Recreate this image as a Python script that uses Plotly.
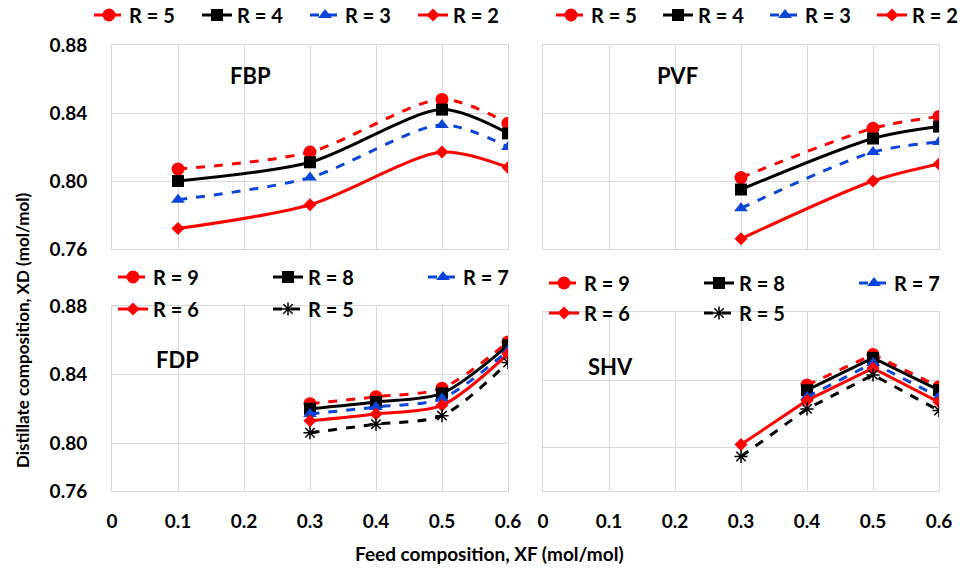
import plotly.graph_objects as go

# ---------------- data ----------------
xF_FBP = [0.1, 0.3, 0.5, 0.6]
FBP_R5 = [0.807, 0.817, 0.848, 0.834]
FBP_R4 = [0.800, 0.811, 0.842, 0.828]
FBP_R3 = [0.789, 0.802, 0.833, 0.820]
FBP_R2 = [0.772, 0.786, 0.817, 0.808]

xF_PVF = [0.3, 0.5, 0.6]
PVF_R5 = [0.802, 0.831, 0.838]
PVF_R4 = [0.795, 0.825, 0.832]
PVF_R3 = [0.784, 0.817, 0.823]
PVF_R2 = [0.766, 0.800, 0.810]

xF_FDP = [0.3, 0.4, 0.5, 0.6]
FDP_R9 = [0.823, 0.827, 0.832, 0.859]
FDP_R8 = [0.820, 0.824, 0.829, 0.857]
FDP_R7 = [0.817, 0.821, 0.826, 0.854]
FDP_R6 = [0.813, 0.817, 0.822, 0.852]
FDP_R5 = [0.806, 0.811, 0.816, 0.847]

xF_SHV = [0.3, 0.4, 0.5, 0.6]
SHV_R9 = [None, 0.837, 0.855, 0.836]
SHV_R8 = [None, 0.834, 0.853, 0.834]
SHV_R7 = [None, 0.830, 0.850, 0.830]
SHV_R6 = [0.802, 0.828, 0.847, 0.827]
SHV_R5 = [0.795, 0.823, 0.843, 0.822]

x_ticks = [0, 0.1, 0.2, 0.3, 0.4, 0.5, 0.6]
x_ticktext = ["0", "0.1", "0.2", "0.3", "0.4", "0.5", "0.6"]
y_ticks_top = [0.76, 0.80, 0.84, 0.88]
y_ticktext_top = ["0.76", "0.80", "0.84", "0.88"]
y_ticks_bot = [0.772, 0.80, 0.84, 0.88]
y_ticktext_bot = ["0.76", "0.80", "0.84", "0.88"]

RED = "#ff0000"
BLACK = "#000000"
BLUE = "#0b45d9"
GRID = "#d9d9d9"
FONT = "Lato, Open Sans, sans-serif"

fig = go.Figure()

styles = {
    "circle": dict(color=RED, dash="dash", symbol="circle", size=13),
    "square": dict(color=BLACK, dash="solid", symbol="square", size=12),
    "triangle": dict(color=BLUE, dash="dash", symbol="triangle-up", size=12),
    "diamond": dict(color=RED, dash="solid", symbol="diamond", size=10),
    "asterisk": dict(color=BLACK, dash="dash", symbol="asterisk-open", size=11),
}


def add(x, y, name, style, ax, legend, shape="spline"):
    s = styles[style]
    marker = dict(symbol=s["symbol"], size=s["size"], color=s["color"])
    if style == "asterisk":
        marker["line"] = dict(color=BLACK, width=1.5)
    fig.add_trace(go.Scatter(
        x=x, y=y, name=name, mode="lines+markers",
        line=dict(color=s["color"], width=3, dash=s["dash"], shape=shape,
                  smoothing=0.8),
        marker=marker, connectgaps=False,
        xaxis="x" + ax, yaxis="y" + ax, legend=legend,
    ))


add(xF_FBP, FBP_R5, "R = 5", "circle", "", "legend")
add(xF_FBP, FBP_R4, "R = 4", "square", "", "legend")
add(xF_FBP, FBP_R3, "R = 3", "triangle", "", "legend")
add(xF_FBP, FBP_R2, "R = 2", "diamond", "", "legend")

add(xF_PVF, PVF_R5, "R = 5", "circle", "2", "legend2")
add(xF_PVF, PVF_R4, "R = 4", "square", "2", "legend2")
add(xF_PVF, PVF_R3, "R = 3", "triangle", "2", "legend2")
add(xF_PVF, PVF_R2, "R = 2", "diamond", "2", "legend2")

add(xF_FDP, FDP_R9, "R = 9", "circle", "3", "legend3")
add(xF_FDP, FDP_R8, "R = 8", "square", "3", "legend3")
add(xF_FDP, FDP_R7, "R = 7", "triangle", "3", "legend3")
add(xF_FDP, FDP_R6, "R = 6", "diamond", "3", "legend4")
add(xF_FDP, FDP_R5, "R = 5", "asterisk", "3", "legend4")

add(xF_SHV, SHV_R9, "R = 9", "circle", "4", "legend5", "linear")
add(xF_SHV, SHV_R8, "R = 8", "square", "4", "legend5", "linear")
add(xF_SHV, SHV_R7, "R = 7", "triangle", "4", "legend5", "linear")
add(xF_SHV, SHV_R6, "R = 6", "diamond", "4", "legend6", "linear")
add(xF_SHV, SHV_R5, "R = 5", "asterisk", "4", "legend6", "linear")

W, H = 964, 571


def px(v):
    return v / W


def py(v):
    return 1 - v / H


xdom_l = [px(112), px(508)]
xdom_r = [px(543), px(939)]
ydom_top = [py(249), py(45)]
ydom_bl = [py(491), py(306)]
ydom_br = [py(491), py(312)]

tickfont = dict(family=FONT, size=19, color="black", weight="bold")
xbase = dict(range=[0, 0.6], tickvals=x_ticks, ticktext=x_ticktext,
             showgrid=True, gridcolor=GRID, gridwidth=1,
             showline=True, linecolor=GRID, linewidth=1, mirror=True,
             zeroline=False, ticks="", tickfont=tickfont)
ybase = dict(showgrid=True, gridcolor=GRID, gridwidth=1,
             showline=True, linecolor=GRID, linewidth=1, mirror=True,
             zeroline=False, ticks="", ticklabelstandoff=20,
             tickfont=tickfont)

layout = dict(
    width=W, height=H,
    margin=dict(l=0, r=0, t=0, b=0, autoexpand=False),
    paper_bgcolor="white", plot_bgcolor="white",
    font=dict(family=FONT, color="black"),
    xaxis=dict(xbase, domain=xdom_l, anchor="y", showticklabels=False),
    yaxis=dict(ybase, domain=ydom_top, anchor="x", range=[0.76, 0.88],
               tickvals=y_ticks_top, ticktext=y_ticktext_top),
    xaxis2=dict(xbase, domain=xdom_r, anchor="y2", showticklabels=False),
    yaxis2=dict(ybase, domain=ydom_top, anchor="x2", range=[0.76, 0.88],
                tickvals=y_ticks_top, showticklabels=False),
    xaxis3=dict(xbase, domain=xdom_l, anchor="y3", ticklabelstandoff=13),
    yaxis3=dict(ybase, domain=ydom_bl, anchor="x3", range=[0.772, 0.88],
                tickvals=y_ticks_bot, ticktext=y_ticktext_bot),
    xaxis4=dict(xbase, domain=xdom_r, anchor="y4", ticklabelstandoff=13),
    yaxis4=dict(ybase, domain=ydom_br, anchor="x4", range=[0.7747, 0.88],
                tickvals=[0.80, 0.84, 0.88], showticklabels=False),
)

legfont = dict(family=FONT, size=20, color="black", weight="bold")


def leg(x, y, ew):
    return dict(orientation="h", x=px(x), y=py(y), xanchor="left",
                yanchor="middle", font=legfont, bgcolor="rgba(0,0,0,0)",
                entrywidth=ew, entrywidthmode="pixels", itemwidth=30,
                tracegroupgap=0)


layout["legend"] = leg(89, 15, 63)
layout["legend2"] = leg(551, 15, 62)
layout["legend3"] = leg(113, 277, 110)
layout["legend4"] = leg(113, 309, 110)
layout["legend5"] = leg(544, 283, 110)
layout["legend6"] = leg(544, 313, 110)

fig.update_layout(**layout)

ann_font = dict(family=FONT, size=22, color="black", weight="bold")
for txt, x, y in [("FBP", 250, 75), ("PVF", 677, 75), ("FDP", 177, 359),
                  ("SHV", 610, 366)]:
    fig.add_annotation(text=txt, x=px(x), y=py(y), xref="paper", yref="paper",
                       showarrow=False, font=ann_font,
                       xanchor="center", yanchor="middle")

fig.add_annotation(text="Distillate composition, XD (mol/mol)", x=px(22),
                   y=py(330), xref="paper", yref="paper", showarrow=False,
                   textangle=-90, xanchor="center", yanchor="middle",
                   font=dict(family=FONT, size=17, color="black", weight="bold"))
fig.add_annotation(text="Feed composition, XF (mol/mol)", x=px(489),
                   y=py(553), xref="paper", yref="paper", showarrow=False,
                   xanchor="center", yanchor="middle",
                   font=dict(family=FONT, size=19, color="black", weight="bold"))

fig.write_html("out.html")
